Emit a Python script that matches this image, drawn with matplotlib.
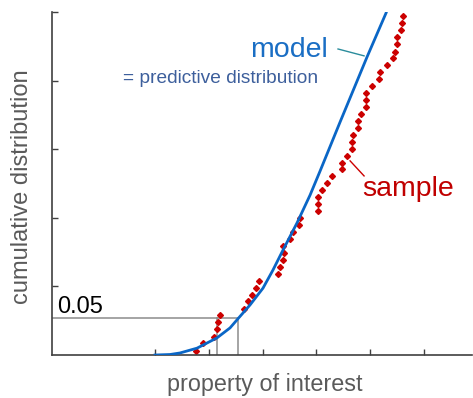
import matplotlib
matplotlib.use("Agg")
import matplotlib.pyplot as plt

plt.rcParams['font.family'] = ['Liberation Sans', 'DejaVu Sans']

# model curve (predictive distribution)
model_x = [1.0, 1.279, 1.465, 1.781, 2.152, 2.394, 2.543, 2.766, 3.007,
           3.193, 3.379, 3.639, 3.881, 4.067, 4.439, 4.941, 5.294]
model_y = [0.0, 0.0015, 0.006, 0.020, 0.050, 0.079, 0.106, 0.146, 0.195,
           0.248, 0.306, 0.385, 0.466, 0.536, 0.679, 0.869, 0.997]

# sample points (sorted) and their cumulative positions
sample_x = [1.762, 1.892, 2.087, 2.152, 2.171, 2.208, 2.645, 2.729, 2.803,
            2.868, 2.933, 3.286, 3.323, 3.379, 3.388, 3.379, 3.509, 3.565,
            3.677, 3.695, 4.030, 4.030, 4.030, 4.104, 4.197, 4.290, 4.476,
            4.476, 4.569, 4.662, 4.662, 4.680, 4.773, 4.773, 4.829, 4.913,
            4.913, 4.922, 5.033, 5.164, 5.182, 5.312, 5.414, 5.461, 5.498,
            5.498, 5.572, 5.582, 5.610]
sample_y = [0.012, 0.035, 0.052, 0.076, 0.095, 0.117, 0.134, 0.156, 0.175,
            0.195, 0.216, 0.236, 0.257, 0.277, 0.297, 0.318, 0.338, 0.359,
            0.379, 0.399, 0.420, 0.440, 0.461, 0.481, 0.501, 0.522, 0.542,
            0.560, 0.580, 0.601, 0.621, 0.641, 0.662, 0.682, 0.703, 0.723,
            0.743, 0.764, 0.784, 0.805, 0.825, 0.845, 0.866, 0.883, 0.907,
            0.927, 0.948, 0.968, 0.988]

level = 0.108          # height of the "0.05" level on this schematic axis
q_sample = 2.152       # 5% quantile of the sample
q_model = 2.55         # 5% quantile of the model

x_ticks = [1, 2, 3, 4, 5, 6]
y_ticks = [0.2, 0.4, 0.6, 0.8, 1.0]

fig = plt.figure(figsize=(4.73, 3.98), dpi=100)
ax = fig.add_axes([0.110, 0.108, 0.888, 0.862])

gray = "#8c8c8c"
ax.plot([-0.914, q_model], [level, level], color=gray, lw=1.1, zorder=1)
ax.plot([q_sample, q_sample], [0, level], color=gray, lw=1.1, zorder=1)
ax.plot([q_model, q_model], [0, level], color=gray, lw=1.1, zorder=1)

ax.plot(sample_x, sample_y, linestyle="none", marker="D", markersize=3.0,
        color="#cc0000", zorder=2)
ax.plot(model_x, model_y, color="#0a66c6", lw=2.0, zorder=3)

ax.set_xlim(-0.914, 6.892)
ax.set_ylim(0, 1)
ax.set_xticks(x_ticks)
ax.set_yticks(y_ticks)
ax.set_xticklabels([])
ax.set_yticklabels([])
ax.tick_params(direction="in", length=4, width=1, color="#404040")
for s in ["top", "right"]:
    ax.spines[s].set_visible(False)
for s in ["left", "bottom"]:
    ax.spines[s].set_color("#404040")
    ax.spines[s].set_linewidth(1.2)

ax.text(-0.822, 0.122, "0.05", fontsize=17, color="black", va="baseline")

ax.text(4.216, 0.869, "model", fontsize=20.5, color="#1a6ec4",
        ha="right", va="baseline")
ax.text(4.030, 0.793, "= predictive distribution", fontsize=13.8,
        color="#3d5f9c", ha="right", va="baseline")
ax.plot([4.401, 4.885], [0.892, 0.872], color="#2a8c9c", lw=1.0)

ax.text(4.848, 0.464, "sample", fontsize=20.5, color="#c00000",
        ha="left", va="baseline")
ax.plot([4.625, 4.885], [0.566, 0.522], color="#cc0000", lw=1.0)

fig.text(265 / 473, 1 - 385 / 398, "property of interest", fontsize=16.8,
         color="#5a5a5a", ha="center", va="center")
fig.text(22 / 473, 1 - 187 / 398, "cumulative distribution", fontsize=17,
         color="#5a5a5a", ha="center", va="center", rotation=90)

fig.savefig("out.png", dpi=100)
